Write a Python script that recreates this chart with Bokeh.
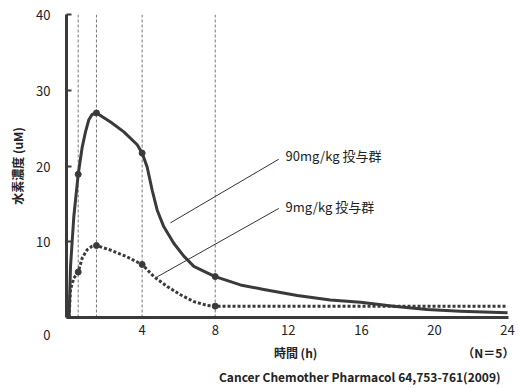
from bokeh.plotting import figure
from bokeh.models import Range1d, Label, FixedTicker, LinearAxis, Title
from bokeh.embed import file_html
from bokeh.resources import INLINE

# ---- data ----
sample_times = [0.5, 1.5, 4, 8]
mean_90 = [18.9, 27.0, 21.7, 5.4]
mean_9 = [6.0, 9.5, 7.0, 1.5]

# traced curve, 90 mg/kg group
time_90 = [0, 0.08, 0.26, 0.5, 0.72, 0.9, 1.08, 1.26, 1.5, 2.27, 3.0, 3.73, 4.0,
           4.27, 4.55, 4.82, 5.18, 5.73, 6.28, 6.83, 7.56, 8.0, 9.38, 10.66,
           12.49, 14.3, 15.95, 17.76, 19.6, 21.4, 24.0]
conc_90 = [0, 6.75, 13.3, 18.9, 22.5, 24.5, 26.1, 26.8, 27.0, 25.8, 24.5, 22.8, 21.7,
           19.9, 16.8, 14.2, 12.0, 9.8, 8.1, 6.75, 5.9, 5.4, 4.3, 3.7,
           2.9, 2.3, 2.0, 1.5, 1.05, 0.83, 0.62]

# traced curve, 9 mg/kg group
time_9 = [0, 0.08, 0.26, 0.5, 0.72, 0.99, 1.26, 1.5, 2.27, 3.18, 4.0, 4.64, 5.37,
          6.1, 6.83, 7.56, 8.0, 12, 16, 20, 24]
conc_9 = [0, 3.7, 5.2, 6.0, 7.85, 8.95, 9.4, 9.5, 8.9, 8.0, 7.0, 5.4, 4.1,
          3.0, 2.1, 1.6, 1.5, 1.5, 1.5, 1.5, 1.5]

x_ticks = [4, 8, 12, 16, 20, 24]
y_ticks = [0, 10, 20, 30, 40]

group_labels = ["90mg/kg 投与群", "9mg/kg 投与群"]
label_x = [11.85, 11.85]
label_y = [21.4, 14.6]
leader_x0 = [5.55, 4.82]
leader_y0 = [12.5, 5.36]
leader_x1 = [11.48, 11.48]
leader_y1 = [20.9, 14.4]

x_title = "時間 (h)"
y_title = "水素濃度 (uM)"
n_note = "（N＝5）"
citation = "Cancer Chemother Pharmacol 64,753-761(2009)"
# positions (in hours) under which the x title and the N note are written
x_title_at = 12.4
n_note_at = 22.95

FONT = "Noto Sans CJK JP"
DARK = "#3a3a3a"
TXT = "#222222"
W, H = 516, 386

p = figure(width=W, height=H, output_backend="svg", toolbar_location=None,
           x_range=Range1d(-0.14, 24.05), y_range=Range1d(0, 40),
           min_border_left=66, min_border_right=8, min_border_top=14,
           min_border_bottom=68)
p.outline_line_color = None
p.xgrid.visible = False
p.ygrid.visible = False

# vertical dashed guides at sampling times
p.segment(x0=sample_times, x1=sample_times, y0=[0] * 4, y1=[40] * 4,
          line_color="#777777", line_width=1, line_dash="3 2")

# curves
p.line(time_90, conc_90, line_color=DARK, line_width=3, line_join="round")
p.line(time_9, conc_9, line_color=DARK, line_width=3, line_dash="3 2")
p.scatter(sample_times, mean_90, size=6, color=DARK)
p.scatter(sample_times, mean_9, size=6, color=DARK)

# leader lines and group labels
p.segment(x0=leader_x0, y0=leader_y0, x1=leader_x1, y1=leader_y1,
          line_color="#333333", line_width=1)
for t, lx, ly in zip(group_labels, label_x, label_y):
    p.add_layout(Label(x=lx, y=ly, text=t, text_font=FONT, text_font_size="13px",
                       text_color=TXT, text_baseline="middle", text_align="left"))

# axes
for ax in (p.xaxis[0], p.yaxis[0]):
    ax.axis_line_color = DARK
    ax.axis_line_width = 3
    ax.minor_tick_line_color = None
    ax.major_label_text_font = FONT
    ax.major_label_text_font_size = "13px"
    ax.major_label_text_color = TXT

p.xaxis.ticker = FixedTicker(ticks=x_ticks)
p.xaxis.major_tick_in = 0
p.xaxis.major_tick_out = 0
p.xaxis.major_label_standoff = 7

p.yaxis.ticker = FixedTicker(ticks=y_ticks)
p.yaxis.major_tick_in = 5
p.yaxis.major_tick_out = 0
p.yaxis.major_tick_line_color = DARK
p.yaxis.major_tick_line_width = 2
p.yaxis.major_label_standoff = 16
p.yaxis.major_label_overrides = {0: "\n\n0"}
p.yaxis.major_label_text_line_height = 0.88
p.yaxis.axis_label = y_title
p.yaxis.axis_label_text_font = FONT
p.yaxis.axis_label_text_font_size = "12px"
p.yaxis.axis_label_text_font_style = "bold"
p.yaxis.axis_label_text_color = TXT
p.yaxis.axis_label_standoff = 7

# second row under the x axis: x title and N note
row2 = LinearAxis(ticker=FixedTicker(ticks=[x_title_at, n_note_at]),
                  major_label_overrides={x_title_at: x_title, n_note_at: n_note},
                  axis_line_color=None, major_tick_line_color=None,
                  minor_tick_line_color=None, major_label_standoff=0,
                  major_label_text_font=FONT, major_label_text_font_size="12px",
                  major_label_text_font_style="bold", major_label_text_color=TXT)
p.add_layout(row2, "below")

p.add_layout(Title(text=citation, align="right", offset=8, text_font=FONT,
                   text_font_size="12px", text_font_style="bold", text_color=TXT,
                   standoff=4), "below")

open("out.html", "w").write(file_html(p, INLINE))
